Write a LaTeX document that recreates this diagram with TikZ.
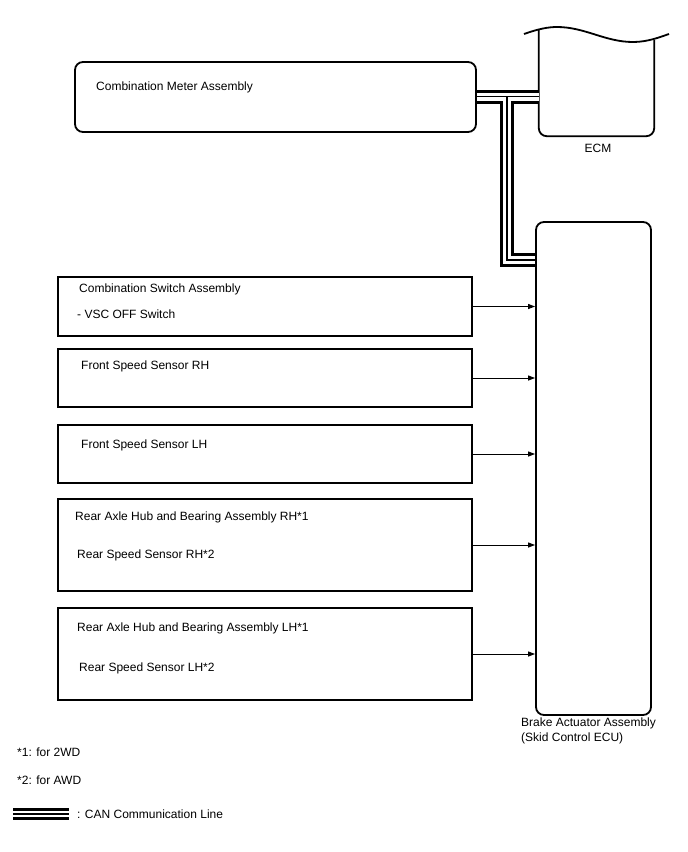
\documentclass[tikz,border=0pt]{standalone}
\usepackage{fontspec}
\setmainfont{Liberation Sans}
\usetikzlibrary{arrows.meta}

\begin{document}
\begin{tikzpicture}[x=1pt, y=-1pt, >={Triangle[length=7pt,width=5pt]},
    box/.style={draw, line width=1.3pt, inner sep=0pt},
    rbox/.style={draw, line width=1.8pt, rounded corners=8pt, inner sep=0pt},
    lbl/.style={anchor=west, inner sep=0pt, font=\fontsize{12}{15}\selectfont},
    canout/.style={line width=14pt},
    canmid/.style={white, line width=8pt},
    canin/.style={line width=1.3pt}]

    \useasboundingbox (0,0) rectangle (688,852);

    % ECU dan meter (kotak bersudut bulat)
    \node[rbox, minimum width=401pt, minimum height=70pt] (meter) at (275.5,97) {};
    \node[lbl] (metertxt) at (96,87) {Combination Meter Assembly};

    \node[inner sep=0pt, minimum width=115pt, minimum height=106pt] (ecm) at (596.5,83) {};
    \draw[line width=1.8pt, rounded corners=8pt] (ecm.north west) |- (ecm.south east) -- ++(0,-96);
    \draw[line width=1.8pt] (524,34) .. controls (538,29) and (548,27) .. (557,27)
                            .. controls (585,27) and (605,42) .. (633,42)
                            .. controls (648,42) and (660,37) .. (669,34);
    \node[lbl, anchor=center] (ecmtxt) at (598,148) {ECM};

    \node[rbox, minimum width=115pt, minimum height=493pt] (brake) at (593.5,468.5) {};
    \node[lbl, anchor=north west, align=left] (braketxt) at (521,718)
        {Brake Actuator Assembly\\(Skid Control ECU)};

    % Sensor dan sakelar
    \node[box, minimum width=414pt, minimum height=59pt] (sw) at (265,306.5) {};
    \node[lbl] (swtxt) at (79,289) {Combination Switch Assembly};
    \node[lbl] (vsctxt) at (77,314) {- VSC OFF Switch};

    \node[box, minimum width=414pt, minimum height=58pt] (fsrh) at (265,378) {};
    \node[lbl] (fsrhtxt) at (81,366) {Front Speed Sensor RH};

    \node[box, minimum width=414pt, minimum height=58pt] (fslh) at (265,454) {};
    \node[lbl] (fslhtxt) at (81,445) {Front Speed Sensor LH};

    \node[box, minimum width=414pt, minimum height=92pt] (rrh) at (265,545) {};
    \node[lbl] (rrhtxt) at (75,517) {Rear Axle Hub and Bearing Assembly RH*1};
    \node[lbl] (rsrhtxt) at (77,555) {Rear Speed Sensor RH*2};

    \node[box, minimum width=414pt, minimum height=92pt] (rlh) at (265,654) {};
    \node[lbl] (rlhtxt) at (77,628) {Rear Axle Hub and Bearing Assembly LH*1};
    \node[lbl] (rslhtxt) at (79,668) {Rear Speed Sensor LH*2};

    % Sinyal ke aktuator rem
    \draw[->, line width=1pt] (sw.east) -- (sw.east -| brake.west);
    \draw[->, line width=1pt] (fsrh.east) -- (fsrh.east -| brake.west);
    \draw[->, line width=1pt] (fslh.east) -- (fslh.east -| brake.west);
    \draw[->, line width=1pt] (rrh.east) -- (rrh.east -| brake.west);
    \draw[->, line width=1pt] (rlh.east) -- (rlh.east -| brake.west);

    % Jalur CAN (tiga garis)
    \coordinate (tee) at (507,96.5);
    \coordinate (bend) at (507,260);
    \draw[canout] (meter.east |- tee) -- (ecm.west |- tee) (tee) -- (bend) -- (brake.west |- bend);
    \draw[canmid] (meter.east |- tee) -- (ecm.west |- tee) (tee) -- (bend) -- (brake.west |- bend);
    \draw[canin] (meter.east |- tee) -- (ecm.west |- tee) (tee) -- (bend) -- (brake.west |- bend);

    % Keterangan
    \node[lbl] (note1) at (17,752) {*1: for 2WD};
    \node[lbl] (note2) at (17,780) {*2: for AWD};
    \draw[line width=2.8pt] (13,809.5) -- (69,809.5) (13,814) -- (69,814) (13,818.5) -- (69,818.5);
    \node[lbl] (cantxt) at (77,814) {: CAN Communication Line};

\end{tikzpicture}
\end{document}
